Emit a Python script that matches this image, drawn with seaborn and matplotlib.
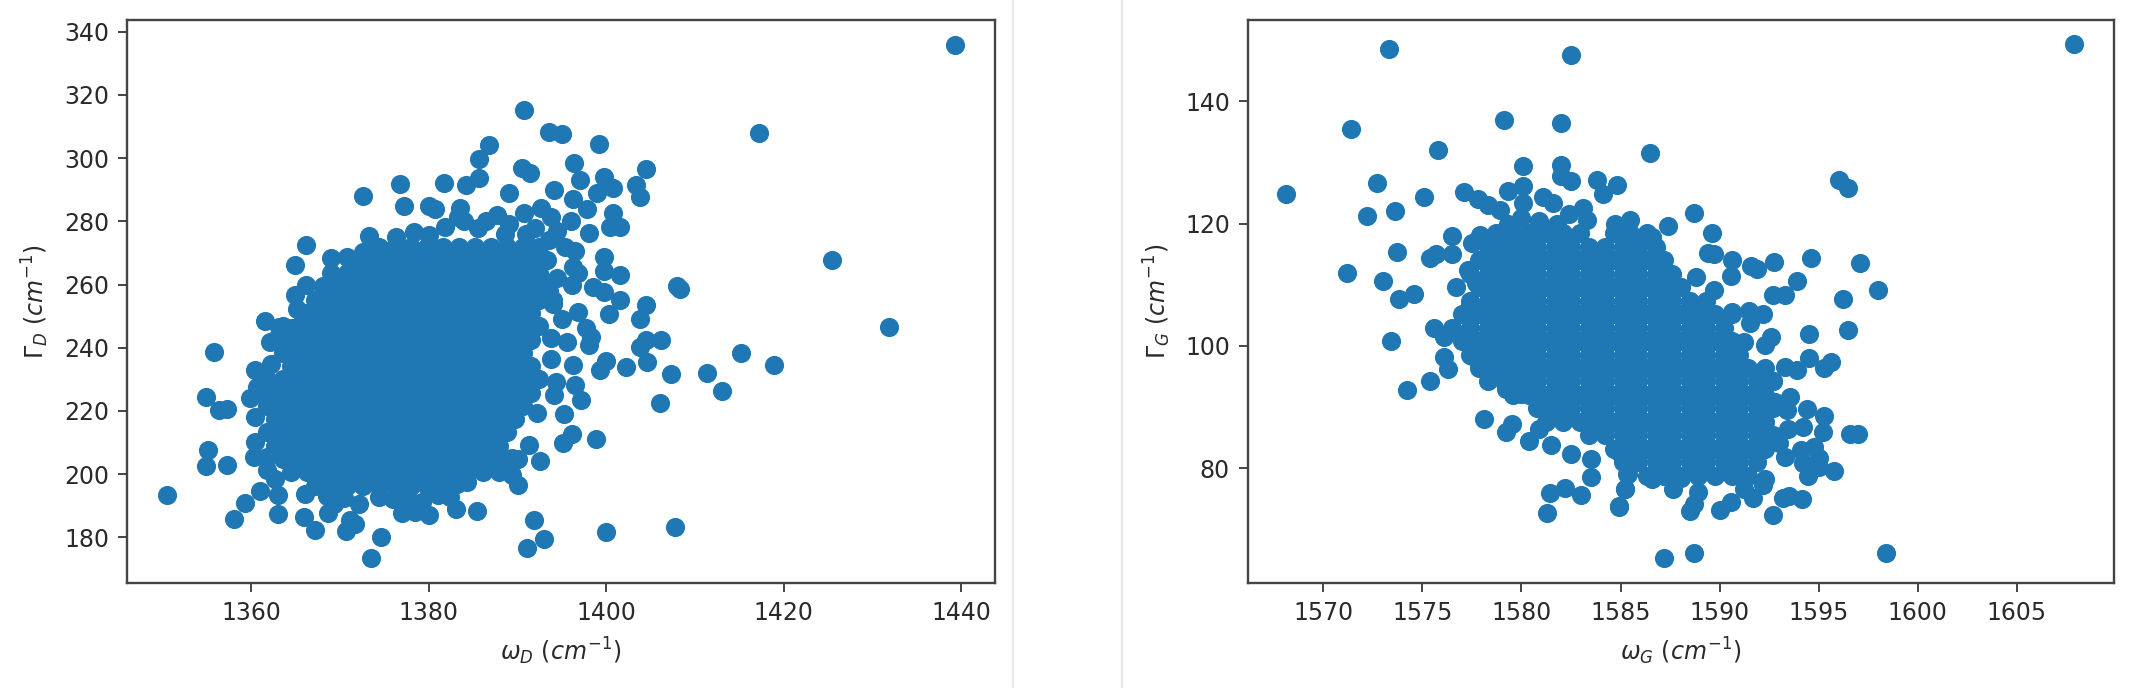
import matplotlib
matplotlib.use("Agg")
import matplotlib.pyplot as plt
from matplotlib.lines import Line2D
import pandas as pd
import seaborn as sns

# ---- D band: points (omega, gamma) ----
D_upper = [(1439.3,335.8),(1417.2,308),(1390.7,315.2),(1393.6,308.3),(1395,307.5),(1399.2,304.4),(1386.8,304.1),
 (1385.7,299.6),(1396.4,298.6),(1404.5,296.5),(1390.5,297),(1391.4,295.2),(1385.7,293.8),(1384.2,291.5),
 (1381.7,292.2),(1376.8,291.7),(1372.6,288),(1389,288.9),(1377.2,284.9),(1380,284.9),(1380.7,284),
 (1397,293),(1399.8,294.1),(1400.8,290.4),(1403.3,291.5),(1403.8,287.6),(1394.1,289.9),(1396.3,287.2),
 (1399,289),(1397.8,284),(1400.8,282.5),(1400.4,278.3),(1401.5,278.3),(1396,280.2),(1398,276.2),
 (1383.5,284.1),(1383.3,281.4),(1387.7,282),(1390.7,282.5),(1392.6,284.1),(1393.8,281.4),(1381.8,278.3),
 (1385.5,278),(1389,279),(1392,278),(1394.5,277),(1380,275.6),(1378.3,276.7),(1376.3,275.1),(1373.3,275.3),
 (1384,280),(1386.5,280),(1388.6,276),(1391,276),(1393.6,274),(1395.3,272),(1396.5,270.5)]
D_right = [(1425.4,267.7),(1431.9,246.6),(1415.2,238.2),(1418.9,234.7),(1411.4,232),(1413,226.4),(1406,222.4),
 (1408,259.5),(1408.3,258.5),(1407.3,231.7),(1406.2,242.4),(1404.5,242.4),(1403.8,240.1),(1404.6,235.6),
 (1404.5,253.5),(1403.8,249),(1402.2,233.8),(1401.6,263),(1401.5,255.1),(1400.3,250.6),(1399.7,257.7),
 (1399.7,268.8),(1399.8,264.4),(1398.5,259.1),(1396.2,265.6),(1396.8,263.5),(1396.1,259.8),(1396.8,251.4),
 (1397.7,246.1),(1398.3,243.5),(1398,240.8),(1393.8,243),(1395.6,241.9),(1393.8,236.3),(1396.3,234.5),
 (1400,235.9),(1399.3,232.9),(1396.5,228.2),(1397.2,223.4),(1394.3,229.2),(1394.1,225),(1395.2,219),
 (1392.2,219.4),(1396.1,212.6),(1395.1,209.9),(1398.8,211),(1391.35,209.2),(1392.55,204.1),(1389.4,205),
 (1389.4,199.7),(1390.1,196.5),(1387.5,202.8),(1394,254),(1395,249),(1393.5,258),(1394.5,262)]
D_lower = [(1350.5,193.3),(1354.9,202.6),(1355.1,207.8),(1357.3,202.8),(1360.45,210.2),(1356.4,220.3),(1357.3,220.5),
 (1360.45,218.1),(1360.3,205.5),(1361.8,205.5),(1361.8,201.3),(1362.7,198.6),(1361,194.6),(1363,193.3),
 (1359.3,191),(1358,185.8),(1363,187.5),(1365.9,186.3),(1367.2,182.5),(1366.1,193.6),(1368.7,187.8),
 (1369.3,190.7),(1371.15,185.4),(1371.7,184.2),(1370.7,182.1),(1372.1,190.7),(1374.6,180.2),(1373.5,173.5),
 (1374.35,192.8),(1377,187.6),(1378.5,188.1),(1380,187),(1379.2,191.2),(1382.4,192.8),(1383.1,189.1),
 (1385.4,188.4),(1384.3,197.6),(1383.2,197),(1391.9,185.4),(1393,179.6),(1391.1,176.7),(1400,181.7),(1407.7,183.4),
 (1376,192),(1377.6,193),(1381,193.5),(1368.5,193),(1370.4,192.5)]
D_left = [(1366.2,272.5),(1364.9,266.2),(1369,268.3),(1370.8,268.8),(1372.6,270.4),(1366.2,260),(1364.9,256.7),
 (1365.2,252.4),(1361.5,248.5),(1363.1,246.6),(1364.6,246.1),(1362.1,241.9),(1355.8,238.7),(1360.4,233.1),
 (1362.2,235),(1354.9,224.5),(1359.9,224),(1360.7,227.6)]
# hand-placed dots for the solid middle of the cloud: gamma -> omegas
D_core = {
 272: [1374.4,1376.2,1378,1379.8,1381.6,1383.4,1385.2,1387,1388.8,1390.6,1392.4],
 267.8: [1371.7,1373.5,1375.3,1377.1,1378.9,1380.7,1382.5,1384.3,1386.1,1387.9,1389.7,1391.5,1393.3],
 263.6: [1369,1370.8,1372.6,1374.4,1376.2,1378,1379.8,1381.6,1383.4,1385.2,1387,1388.8,1390.6,1392.4],
 259.4: [1368.1,1369.9,1371.7,1373.5,1375.3,1377.1,1378.9,1380.7,1382.5,1384.3,1386.1,1387.9,1389.7,1391.5,1393.3],
 255.2: [1367.2,1369,1370.8,1372.6,1374.4,1376.2,1378,1379.8,1381.6,1383.4,1385.2,1387,1388.8,1390.6,1392.4,1394],
 251: [1366.3,1368.1,1369.9,1371.7,1373.5,1375.3,1377.1,1378.9,1380.7,1382.5,1384.3,1386.1,1387.9,1389.7,1391.5],
 246.8: [1363.6,1365.4,1367.2,1369,1370.8,1372.6,1374.4,1376.2,1378,1379.8,1381.6,1383.4,1385.2,1387,1388.8,1390.6,1392.4],
 242.6: [1362.7,1364.5,1366.3,1368.1,1369.9,1371.7,1373.5,1375.3,1377.1,1378.9,1380.7,1382.5,1384.3,1386.1,1387.9,1389.7,1391.5],
 238.4: [1363.6,1365.4,1367.2,1369,1370.8,1372.6,1374.4,1376.2,1378,1379.8,1381.6,1383.4,1385.2,1387,1388.8,1390.6],
 234.2: [1364.5,1366.3,1368.1,1369.9,1371.7,1373.5,1375.3,1377.1,1378.9,1380.7,1382.5,1384.3,1386.1,1387.9,1389.7,1391.5],
 230: [1361.8,1363.6,1365.4,1367.2,1369,1370.8,1372.6,1374.4,1376.2,1378,1379.8,1381.6,1383.4,1385.2,1387,1388.8,1390.6,1392.4],
 225.8: [1360.9,1362.7,1364.5,1366.3,1368.1,1369.9,1371.7,1373.5,1375.3,1377.1,1378.9,1380.7,1382.5,1384.3,1386.1,1387.9,1389.7,1391.5],
 221.6: [1361.8,1363.6,1365.4,1367.2,1369,1370.8,1372.6,1374.4,1376.2,1378,1379.8,1381.6,1383.4,1385.2,1387,1388.8,1390.6],
 217.4: [1362.7,1364.5,1366.3,1368.1,1369.9,1371.7,1373.5,1375.3,1377.1,1378.9,1380.7,1382.5,1384.3,1386.1,1387.9,1389.7],
 213.2: [1361.8,1363.6,1365.4,1367.2,1369,1370.8,1372.6,1374.4,1376.2,1378,1379.8,1381.6,1383.4,1385.2,1387,1388.8],
 209: [1362.7,1364.5,1366.3,1368.1,1369.9,1371.7,1373.5,1375.3,1377.1,1378.9,1380.7,1382.5,1384.3,1386.1,1387.9],
 204.8: [1363.6,1365.4,1367.2,1369,1370.8,1372.6,1374.4,1376.2,1378,1379.8,1381.6,1383.4,1385.2,1387,1388.8,1390],
 200.6: [1364.5,1366.3,1368.1,1369.9,1371.7,1373.5,1375.3,1377.1,1378.9,1380.7,1382.5,1384.3,1386.1,1387.9],
 196.4: [1367.2,1369,1370.8,1372.6,1374.4,1376.2,1378,1379.8,1381.6],
}

# ---- G band: points (omega, gamma) ----
G_upper = [(1568.1,124.8),(1573.3,148.6),(1582.5,147.6),(1607.9,149.3),(1571.4,135.4),(1575.8,132),(1579.1,136.9),
 (1582,136.4),(1580.1,129.4),(1582,129.6),(1582,127.8),(1582.5,127),(1583.8,127.2),(1584.8,126.3),(1584.1,124.9),
 (1572.7,126.7),(1575.1,124.3),(1577.1,125.2),(1577.8,124),(1578.3,123.1),(1578.9,122.2),(1579.3,125.3),
 (1580.1,126.1),(1580.1,123.4),(1581.1,124.3),(1581.6,123.3),(1582.4,121.5),(1583.1,122.6),(1583.3,120.6),
 (1584.7,119.9),(1585.5,120.6),(1586.6,117.8),(1587.4,119.6),(1586.5,131.5),(1588.7,121.8),(1589.6,118.4),
 (1596,127.2),(1596.5,125.9),(1580,121),(1580.9,120.5),(1581.8,120),(1585,118.5),(1579.3,120)]
G_left = [(1572.2,121.2),(1573.6,122),(1576.5,117.9),(1577.9,118.2),(1577.5,116.8),(1573.7,115.4),(1576.5,115.1),
 (1575.7,115.1),(1575.4,114.3),(1577.3,112.5),(1571.2,111.9),(1573,110.6),(1574.6,108.5),(1573.8,107.6),
 (1576.7,109.6),(1577.7,110.3),(1577.4,106.8),(1573.4,100.8),(1575.6,103),(1576.5,103),(1576.1,101.4),
 (1576.1,98.2),(1576.3,96.2),(1575.4,94.3),(1574.2,92.8),(1577.2,101.6),(1577.5,98.4),(1578.3,94.3),
 (1579.2,92.9),(1580,92.1),(1581,89.9),(1578.1,88.1),(1579.5,87.2),(1579.2,86),(1580.4,84.4),(1580.9,86.4),
 (1581.5,83.8),(1582.5,82.3),(1583.5,81.5),(1583.5,78.5),(1584.9,82.6),(1585.4,79),(1585.2,76.6),(1584.9,73.8),
 (1581.45,75.9),(1582.2,76.7),(1583,75.7),(1581.3,72.6)]
G_right = [(1589.4,115.2),(1589.7,115),(1590.6,114),(1590.55,111.4),(1591.6,113),(1591.9,112.6),(1592.75,113.7),
 (1594.6,114.4),(1597.1,113.6),(1593.9,110.6),(1592.7,108.4),(1593.3,108.3),(1596.2,107.6),(1598,109.2),
 (1592.2,105.3),(1591.5,105.7),(1591.55,103.7),(1588.8,111.3),(1589.7,109.2),(1590.6,105.5),(1592.6,101.5),
 (1592.3,100.2),(1594.5,101.9),(1596.5,102.6),(1591.25,100.6),(1594.5,98.1),(1595.6,97.3),(1595.25,96.4),
 (1593.9,96),(1593.3,96.5),(1592.7,94.2),(1592.8,90.9),(1593.55,91.6),(1593.4,89.5),(1594.4,89.7),(1595.25,88.5),
 (1594.2,86.7),(1593.45,86.4),(1595.2,85.9),(1596.6,85.6),(1597,85.6),(1593,84.1),(1593.3,81.9),(1594.1,83),
 (1594.75,83.4),(1595,81.7),(1594.2,80.9),(1595.75,79.6),(1594.45,78.8),(1595,80.2)]
G_lower = [(1592.3,78.2),(1592.2,77.3),(1591.25,76.6),(1591.7,75.1),(1593.2,75.1),(1593.5,75.5),(1594.15,75),
 (1592.7,72.3),(1590.55,74.5),(1590,73.1),(1588.9,76.1),(1588.5,73),(1588.7,74.2),(1587.65,76.6),(1588.05,78.4),
 (1586.6,78.2),(1585.35,79),(1585.2,76.6),(1584.9,73.7),(1587.2,65.3),(1588.7,66.2),(1598.4,66.1)]
# hand-placed dots for the solid middle of the cloud: gamma -> omegas
G_core = {
 118.4: [1578.7,1579.55,1580.4,1581.25,1582.1,1582.95,1584.65,1585.5,1586.35],
 116.2: [1578.3,1579.1,1580,1580.8,1581.7,1582.5,1583.4,1584.2,1585.1,1585.9,1586.8],
 114: [1577.85,1578.7,1579.55,1580.4,1581.25,1582.1,1582.95,1583.8,1584.65,1585.5,1586.35,1587.2],
 111.8: [1577.4,1578.3,1579.1,1580,1580.8,1581.7,1582.5,1583.4,1584.2,1585.1,1585.9,1586.8,1587.6],
 109.6: [1577.85,1578.7,1579.55,1580.4,1581.25,1582.1,1582.95,1583.8,1584.65,1585.5,1586.35,1587.2,1588.05],
 107.4: [1577.4,1578.3,1579.1,1580,1580.8,1581.7,1582.5,1583.4,1584.2,1585.1,1585.9,1586.8,1587.6,1588.5,1589.3],
 105.2: [1577,1577.85,1578.7,1579.55,1580.4,1581.25,1582.1,1582.95,1583.8,1584.65,1585.5,1586.35,1587.2,1588.05,1588.9,1589.75,1590.6],
 103: [1577.4,1578.3,1579.1,1580,1580.8,1581.7,1582.5,1583.4,1584.2,1585.1,1585.9,1586.8,1587.6,1588.5,1589.3,1590.2],
 100.8: [1577,1577.85,1578.7,1579.55,1580.4,1581.25,1582.1,1582.95,1583.8,1584.65,1585.5,1586.35,1587.2,1588.05,1588.9,1589.75,1590.6],
 98.6: [1577.4,1578.3,1579.1,1580,1580.8,1581.7,1582.5,1583.4,1584.2,1585.1,1585.9,1586.8,1587.6,1588.5,1589.3,1590.2,1591],
 96.4: [1577.85,1578.7,1579.55,1580.4,1581.25,1582.1,1582.95,1583.8,1584.65,1585.5,1586.35,1587.2,1588.05,1588.9,1589.75,1590.6,1591.45,1592.3],
 94.2: [1579.1,1580,1580.8,1581.7,1582.5,1583.4,1584.2,1585.1,1585.9,1586.8,1587.6,1588.5,1589.3,1590.2,1591,1591.9,1592.7],
 92: [1579.55,1580.4,1581.25,1582.1,1582.95,1583.8,1584.65,1585.5,1586.35,1587.2,1588.05,1588.9,1589.75,1590.6,1591.45,1592.3],
 89.8: [1580.8,1581.7,1582.5,1583.4,1584.2,1585.1,1585.9,1586.8,1587.6,1588.5,1589.3,1590.2,1591,1591.9,1592.7],
 87.6: [1581.25,1582.1,1582.95,1583.8,1584.65,1585.5,1586.35,1587.2,1588.05,1588.9,1589.75,1590.6,1591.45,1592.3],
 85.4: [1583.4,1584.2,1585.1,1585.9,1586.8,1587.6,1588.5,1589.3,1590.2,1591,1591.9,1592.7],
 83.2: [1584.65,1585.5,1586.35,1587.2,1588.05,1588.9,1589.75,1590.6,1591.45,1592.3],
 81: [1585.1,1585.9,1586.8,1587.6,1588.5,1589.3,1590.2,1591,1591.9],
 78.8: [1586.35,1587.2,1588.05,1588.9,1589.75,1590.6,1591.45],
}

D_xticks = [1360, 1380, 1400, 1420, 1440]
D_yticks = [180, 200, 220, 240, 260, 280, 300, 320, 340]
G_xticks = [1570, 1575, 1580, 1585, 1590, 1595, 1600, 1605]
G_yticks = [80, 100, 120, 140]


def frame(edges, core, xname, yname):
    pts = [p for group in edges for p in group]
    pts += [(w, g) for g, ws in core.items() for w in ws]
    return pd.DataFrame(pts, columns=[xname, yname])


df_D = frame([D_upper, D_right, D_lower, D_left], D_core, "w", "g")
df_G = frame([G_upper, G_left, G_right, G_lower], G_core, "w", "g")

W, H = 2133, 688
FS = 17
INK = "#2a2a2a"
plt.rcParams.update({
    "font.size": FS, "axes.linewidth": 1.7, "axes.edgecolor": "#444444",
    "xtick.major.size": 6.5, "ytick.major.size": 6.5,
    "xtick.major.width": 1.4, "ytick.major.width": 1.4,
    "xtick.major.pad": 6.5, "ytick.major.pad": 6.5,
    "xtick.color": "#444444", "ytick.color": "#444444",
    "xtick.labelcolor": INK, "ytick.labelcolor": INK,
    "axes.labelcolor": INK, "axes.labelsize": FS,
    "xtick.labelsize": FS, "ytick.labelsize": FS,
})

fig = plt.figure(figsize=(W / 100, H / 100), dpi=100, facecolor="white")


def panel(px0, px1, df, xlim, ylim, xt, yt, xl, yl):
    ax = fig.add_axes([px0 / W, 1 - 582.6 / H, (px1 - px0) / W, (582.6 - 20) / H])
    sns.scatterplot(data=df, x="w", y="g", ax=ax, color="#1f77b4", s=190,
                    linewidth=0, alpha=1, legend=False, clip_on=True)
    ax.set_xlim(*xlim)
    ax.set_ylim(*ylim)
    ax.set_xticks(xt)
    ax.set_yticks(yt)
    ax.set_xlabel(xl, labelpad=8)
    ax.set_ylabel(yl, labelpad=9)
    return ax


panel(127, 995, df_D, (1346.0, 1443.8), (165.7, 343.7), D_xticks, D_yticks,
      r"$\omega_D\ (cm^{-1})$", r"$\Gamma_D\ (cm^{-1})$")
panel(1248, 2114, df_G, (1566.2, 1609.9), (61.3, 153.3), G_xticks, G_yticks,
      r"$\omega_G\ (cm^{-1})$", r"$\Gamma_G\ (cm^{-1})$")

for px in (1013, 1122):
    fig.add_artist(Line2D([px / W, px / W], [0, 1], color="#e9e9e9", lw=1.6))

fig.savefig("out.png", dpi=100, facecolor="white")
